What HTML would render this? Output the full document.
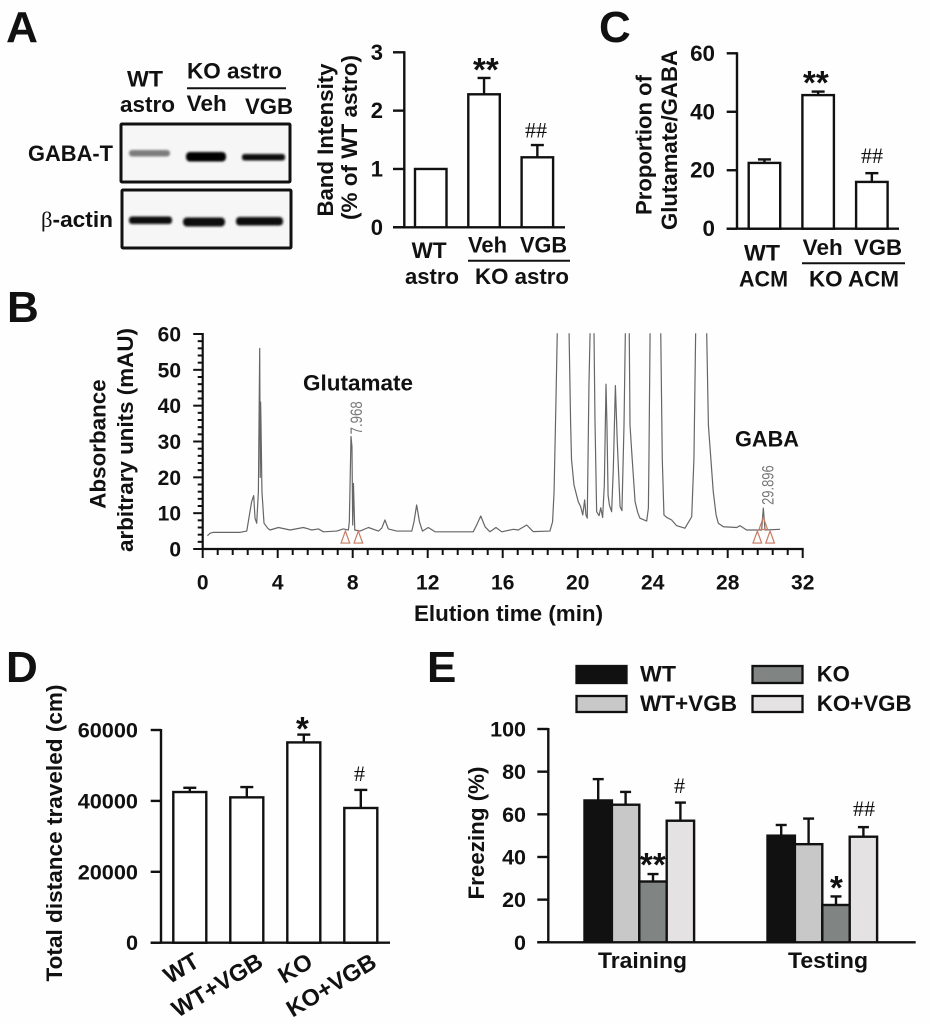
<!DOCTYPE html>
<html lang="en">
<head>
<meta charset="utf-8">
<title>Astrocyte GABA-T figure</title>
<style>
html,body{margin:0;padding:0;background:#fefefe;}
svg{display:block;filter:blur(.35px);}
text{font-family:"Liberation Sans",sans-serif;font-weight:bold;font-size:22.4px;fill:#111;}
.panel{font-size:44px;}
.hash{font-family:"Liberation Serif",serif;font-weight:normal;font-size:22px;}
.star{font-size:33px;}
.ser{font-family:"Liberation Serif",serif;}
.peak{font-weight:normal;font-size:17px;fill:#777;}
</style>
</head>
<body>
<svg id="fig" width="930" height="1024" viewBox="0 0 930 1024" xmlns="http://www.w3.org/2000/svg">
<defs>
<filter id="blur2" x="-20%" y="-80%" width="140%" height="260%"><feGaussianBlur stdDeviation="1.1"/></filter>
</defs>
<rect width="930" height="1024" fill="#fefefe"/>

<text class="panel" x="6" y="42" textLength="32" lengthAdjust="spacingAndGlyphs">A</text>
<text class="panel" x="7" y="322">B</text>
<text class="panel" x="599" y="42">C</text>
<text class="panel" x="6" y="682">D</text>
<text class="panel" x="427" y="682">E</text>

<!-- Western blot -->
<g>
  <text x="127" y="86.7" textLength="36" lengthAdjust="spacingAndGlyphs">WT</text>
  <text x="120" y="112" textLength="55" lengthAdjust="spacingAndGlyphs">astro</text>
  <text x="187" y="78.7" textLength="95" lengthAdjust="spacingAndGlyphs">KO astro</text>
  <line x1="187" y1="88.3" x2="286" y2="88.3" stroke="#111" stroke-width="2"/>
  <text x="186.7" y="111" textLength="40" lengthAdjust="spacingAndGlyphs">Veh</text>
  <text x="245" y="114" textLength="48" lengthAdjust="spacingAndGlyphs">VGB</text>
  <text x="28" y="161" textLength="85" lengthAdjust="spacingAndGlyphs">GABA-T</text>
  <text x="41" y="227" textLength="72" lengthAdjust="spacingAndGlyphs"><tspan class="ser" font-weight="normal">β</tspan>-actin</text>
  <rect x="121" y="124" width="169" height="58" fill="#f6f6f6" stroke="#111" stroke-width="3" rx="1"/>
  <rect x="122" y="190" width="169" height="58" fill="#f6f6f6" stroke="#111" stroke-width="3" rx="1"/>
  <g filter="url(#blur2)">
    <rect x="129" y="150" width="41" height="6.5" rx="3" fill="#7d7d7d"/>
    <rect x="186" y="152" width="40" height="9.5" rx="4" fill="#000"/>
    <rect x="242" y="154" width="43" height="6.5" rx="2.5" fill="#111"/>
    <rect x="129" y="216.5" width="43" height="7.5" rx="3" fill="#0a0a0a"/>
    <rect x="183" y="217.5" width="42" height="9" rx="4" fill="#111"/>
    <rect x="236" y="217" width="47" height="8.5" rx="3.5" fill="#111"/>
  </g>
</g>

<!-- Panel A chart -->
<g id="chartA">
  <text transform="translate(333,140) rotate(-90)" text-anchor="middle" textLength="153" lengthAdjust="spacingAndGlyphs">Band Intensity</text>
  <text transform="translate(357,137.5) rotate(-90)" text-anchor="middle" textLength="165" lengthAdjust="spacingAndGlyphs">(% of WT astro)</text>
  <text x="411.7" y="258" textLength="35" lengthAdjust="spacingAndGlyphs">WT</text>
  <text x="405" y="284" textLength="54" lengthAdjust="spacingAndGlyphs">astro</text>
  <text x="468" y="252.7" textLength="39" lengthAdjust="spacingAndGlyphs">Veh</text>
  <text x="520" y="252.7" textLength="47" lengthAdjust="spacingAndGlyphs">VGB</text>
  <line x1="468" y1="260.7" x2="570" y2="260.7" stroke="#111" stroke-width="2"/>
  <text x="475" y="284" textLength="94" lengthAdjust="spacingAndGlyphs">KO astro</text>
  <text class="star" x="473" y="81">**</text>
  <text class="hash" x="525" y="137.5">##</text>
</g>

<!-- Panel C chart -->
<g id="chartC">
  <text transform="translate(651.7,145) rotate(-90)" text-anchor="middle" textLength="140" lengthAdjust="spacingAndGlyphs">Proportion of</text>
  <text transform="translate(677,140) rotate(-90)" text-anchor="middle" textLength="180" lengthAdjust="spacingAndGlyphs">Glutamate/GABA</text>
  <text x="744" y="260.7" textLength="36" lengthAdjust="spacingAndGlyphs">WT</text>
  <text x="739" y="286.7" textLength="49" lengthAdjust="spacingAndGlyphs">ACM</text>
  <text x="802.7" y="255" textLength="40" lengthAdjust="spacingAndGlyphs">Veh</text>
  <text x="854" y="255" textLength="48" lengthAdjust="spacingAndGlyphs">VGB</text>
  <line x1="802" y1="263.3" x2="905" y2="263.3" stroke="#111" stroke-width="2"/>
  <text x="809" y="286.7" textLength="90" lengthAdjust="spacingAndGlyphs">KO ACM</text>
  <text class="star" x="803" y="94">**</text>
  <text class="hash" x="861" y="163">##</text>
</g>

<!-- Panel B chromatogram -->
<g id="chartB">
  <text transform="translate(105.7,444) rotate(-90)" text-anchor="middle">Absorbance</text>
  <text transform="translate(133,440) rotate(-90)" text-anchor="middle">arbitrary units (mAU)</text>
  <text x="414" y="621">Elution time (min)</text>
  <text x="303" y="390.7" textLength="110" lengthAdjust="spacingAndGlyphs">Glutamate</text>
  <text x="735" y="446.7" textLength="64" lengthAdjust="spacingAndGlyphs">GABA</text>
</g>

<!-- Panel D chart -->
<g id="chartD">
  <text transform="translate(62,833) rotate(-90)" text-anchor="middle" textLength="297" lengthAdjust="spacingAndGlyphs">Total distance traveled (cm)</text>
  <text class="star" x="296" y="740">*</text>
  <text class="hash" x="354" y="781">#</text>
</g>

<!-- Panel E chart -->
<g id="chartE">
  <text transform="translate(484,833) rotate(-90)" text-anchor="middle" textLength="133" lengthAdjust="spacingAndGlyphs">Freezing (%)</text>
  <g>
    <rect x="576.5" y="666" width="50" height="17" fill="#111" stroke="#111" stroke-width="2.3"/>
    <text x="640" y="681.7" textLength="36" lengthAdjust="spacingAndGlyphs">WT</text>
    <rect x="752.5" y="666" width="50" height="17" fill="#808482" stroke="#111" stroke-width="2.3"/>
    <text x="816.7" y="681.7" textLength="33" lengthAdjust="spacingAndGlyphs">KO</text>
    <rect x="576.5" y="696" width="50" height="16" fill="#c8c8c8" stroke="#111" stroke-width="2.3"/>
    <text x="640" y="711" textLength="97" lengthAdjust="spacingAndGlyphs">WT+VGB</text>
    <rect x="752.5" y="696" width="50" height="16" fill="#e4e2e2" stroke="#111" stroke-width="2.3"/>
    <text x="816.7" y="711" textLength="95" lengthAdjust="spacingAndGlyphs">KO+VGB</text>
  </g>
  <text class="hash" x="674" y="793">#</text>
  <text class="star" x="640" y="876">**</text>
  <text class="hash" x="853" y="816">##</text>
  <text class="star" x="830" y="899">*</text>
</g>
</svg>

<script>
// Panel A data
const aCategories = ['WT astro', 'KO astro Veh', 'KO astro VGB'];
const aValues = [1, 2.28, 1.2];
const aErrorTops = [null, 2.56, 1.41];
const aTicks = [0, 1, 2, 3];

// Panel C data
const cCategories = ['WT ACM', 'KO ACM Veh', 'KO ACM VGB'];
const cValues = [22.5, 45.7, 16];
const cErrorTops = [23.7, 46.9, 19];
const cTicks = [0, 20, 40, 60];

// Panel D data
const dCategories = ['WT', 'WT+VGB', 'KO', 'KO+VGB'];
const dValues = [42500, 41000, 56500, 38000];
const dErrorTops = [43700, 43900, 58700, 43100];
const dTicks = [0, 20000, 40000, 60000];

// Panel E data
const eGroups = ['Training', 'Testing'];
const eSeries = ['WT', 'WT+VGB', 'KO', 'KO+VGB'];
const eTrainingValues = [66.5, 64.5, 28.5, 57];
const eTrainingErrorTops = [76.5, 70.5, 32, 65.5];
const eTestingValues = [50, 46, 17.5, 49.5];
const eTestingErrorTops = [55, 58, 21.5, 54];
const eTicks = [0, 20, 40, 60, 80, 100];

// Panel B data
const bXTicks = [0, 4, 8, 12, 16, 20, 24, 28, 32];
const bYTicks = [0, 10, 20, 30, 40, 50, 60];
const traceTimes = [0.25,0.4,0.57,2,2.35,2.52,2.61,2.72,2.79,2.88,2.97,3.04,3.07,3.09,3.11,3.16,3.27,3.5,3.59,4.04,4.66,5.37,5.64,5.81,6.17,6.44,7.15,7.5,7.77,7.82,7.91,7.96,8,8.04,8.11,8.39,8.84,9.37,9.55,9.72,9.9,10.35,11.15,11.27,11.41,11.56,11.72,12.03,12.39,14.43,14.61,14.83,15.06,15.32,15.64,15.95,16.57,16.83,17.28,17.63,18.52,18.66,18.74,18.84,18.91,19.54,19.62,19.67,19.8,20.03,20.16,20.27,20.37,20.44,20.51,20.6,20.66,20.87,20.92,21.01,21.14,21.23,21.33,21.42,21.51,21.56,21.62,21.69,21.81,21.9,22.01,22.11,22.26,22.36,22.47,22.54,22.75,22.79,22.88,23.06,23.2,23.32,23.68,23.77,23.8,23.86,24.43,24.51,24.6,24.75,25.01,25.28,25.72,26.08,26.2,26.29,26.88,26.97,27.23,27.38,27.5,27.77,28.48,28.66,29.01,29.81,29.9,29.99,30.79];
const traceMau = [3.7,4.4,4.65,4.65,5,10.4,13.2,14.9,8.6,7.2,16,56,20,41,34.6,16,7.2,5.6,5.3,6,5.3,6,5.6,5.3,5.6,4.8,5,5.6,5.3,7.6,31.4,28.6,6.7,18.3,5.3,5,6,5,5.8,8.1,5.6,5,5,7.6,12.3,7.6,5,6,4.8,4.8,6.7,9.2,6.2,4.8,6,4.8,5.5,5.3,6.7,4.84,5,7.6,16,41.2,60.2,60.2,35.6,25,17.9,13.2,11.8,9.5,13.7,9.5,8.6,45.8,60.2,60.2,36.5,10.4,9.3,11.5,8.8,17.9,46,34.6,15,12.3,10.4,22.5,45.6,30,11.8,10.7,34.6,60.2,60.2,34.6,27.2,13.2,10.2,8.6,7.8,11.4,25.3,60.2,60.2,25.3,9.5,8.8,8.1,6.5,5.8,9,25.3,60.2,60.2,34.6,16,9.5,7.2,6.2,6,6.5,5.3,5.3,11.4,5.3,5.5];
const markerTimes = [7.61, 8.3, 29.58, 30.26, 29.9];
const markerApexes = [5, 5, 5, 5, 8.8];
const peakTimes = ['7.968', '29.896'];
const peakLabelBases = [32, 12.3];

const NS = 'http://www.w3.org/2000/svg';
function make(parent, tag, attrs) {
  const el = document.createElementNS(NS, tag);
  for (const k in attrs) el.setAttribute(k, attrs[k]);
  parent.appendChild(el);
  return el;
}
function linear(d0, d1, r0, r1) {
  return v => r0 + (v - d0) * (r1 - r0) / (d1 - d0);
}
function axisLine(parent, x1, y1, x2, y2, sw) {
  return make(parent, 'line', {x1, y1, x2, y2, stroke: '#111', 'stroke-width': sw});
}

function drawAxes(parent, o) {
  const yAxis = axisLine(parent, o.axisX, o.y(o.ticks[o.ticks.length - 1]) - 1, o.axisX, o.y(0), 2.4);
  
  
  const xAxis = axisLine(parent, o.tickX, o.y(0), o.xEnd, o.y(0), 2.4);
  
  
  o.ticks.forEach(t => {
    const tick = axisLine(parent, o.tickX, o.y(t), o.axisX, o.y(t), 2.4);
    
    
    const lab = make(parent, 'text', {x: o.labelX, y: o.y(t) + 7.5, 'text-anchor': 'end'});
    lab.style.fontSize = o.font + 'px';
    lab.textContent = t;
    
    
  });
}

function drawBar(parent, x, w, y, value, errTop, fill, cap) {
  const cx = x + w / 2;
  if (errTop !== null) {
    const stem = axisLine(parent, cx, y(value), cx, y(errTop), 2.4);
    
    
    const hat = axisLine(parent, cx - cap / 2, y(errTop), cx + cap / 2, y(errTop), 2.4);
    
    
  }
  const bar = make(parent, 'rect', {x, y: y(value), width: w, height: y(0) - y(value), fill, stroke: '#111', 'stroke-width': 2.4});
  
  
  return bar;
}

// Panel A
(function () {
  const g = document.getElementById('chartA');
  const y = linear(0, 3, 227.3, 52.3);
  drawAxes(g, {y, ticks: aTicks, axisX: 404.3, tickX: 393, xEnd: 565, labelX: 383, font: 22});
  aCategories.forEach((c, i) => {
    drawBar(g, 415 + i * 53.3, 31.5, y, aValues[i], aErrorTops[i], '#fff', 13);
  });
})();

// Panel C
(function () {
  const g = document.getElementById('chartC');
  const y = linear(0, 60, 228.7, 53.3);
  drawAxes(g, {y, ticks: cTicks, axisX: 737, tickX: 726.7, xEnd: 899, labelX: 715, font: 22.4});
  cCategories.forEach((c, i) => {
    drawBar(g, 748.7 + i * 53.7, 31.5, y, cValues[i], cErrorTops[i], '#fff', 13);
  });
})();

// Panel D
(function () {
  const g = document.getElementById('chartD');
  const y = linear(0, 60000, 942.7, 730);
  drawAxes(g, {y, ticks: dTicks, axisX: 161, tickX: 150.7, xEnd: 390, labelX: 138, font: 21.7});
  const band = i => 173.3 + i * 57;
  dCategories.forEach((c, i) => {
    drawBar(g, band(i), 33, y, dValues[i], dErrorTops[i], '#fff', 13);
    const long = c.length > 2;
    const lab = make(g, 'text', {
      transform: 'translate(' + (band(i) + (long ? -9 : 12)) + ',' + (long ? 992 : 975) + ') rotate(-31)',
      'text-anchor': 'middle'
    });
    lab.style.fontSize = '23.5px';
    lab.textContent = c;
    
    
  });
})();

// Panel E
(function () {
  const g = document.getElementById('chartE');
  const y = linear(0, 100, 942.3, 729);
  drawAxes(g, {y, ticks: eTicks, axisX: 548.3, tickX: 537.3, xEnd: 915.7, labelX: 526, font: 21.5});
  const fills = ['#111', '#c8c8c8', '#808482', '#e4e2e2'];
  const starts = [584.5, 767.5];
  const lefts = [598, 788];
  const widths = [89, 80];
  const values = [eTrainingValues, eTestingValues];
  const tops = [eTrainingErrorTops, eTestingErrorTops];
  eGroups.forEach((name, gi) => {
    eSeries.forEach((s, i) => {
      drawBar(g, starts[gi] + i * 27.4, 27.4, y, values[gi][i], tops[gi][i], fills[i], 11);
    });
    const lab = make(g, 'text', {x: lefts[gi], y: 968, textLength: widths[gi], lengthAdjust: 'spacingAndGlyphs'});
    lab.textContent = name;
    
    
  });
})();

// Panel B
(function () {
  const g = document.getElementById('chartB');
  const x = linear(0, 32, 202.7, 802.7);
  const y = linear(0, 60, 549, 334);
  const yAxis = axisLine(g, x(0), y(60) - 1, x(0), y(0) + 1, 2.2);
  
  
  const xAxis = axisLine(g, x(0) - 1, y(0), x(32) + 1, y(0), 2.2);
  
  
  for (let k = 0; k <= 30; k++) {
    const v = k * 2;
    const isMajor = k % 5 === 0;
    const minorY = axisLine(g, x(0) - (isMajor ? 9.5 : 5), y(v), x(0), y(v), 2);
    
    
  }
  for (let k = 0; k <= 40; k++) {
    const v = k * 0.8;
    const isMajor = k % 5 === 0;
    const minorX = axisLine(g, x(v), y(0), x(v), y(0) + (isMajor ? 9 : 6), 2);
    
    
  }
  bYTicks.forEach(t => {
    const lab = make(g, 'text', {x: 181, y: y(t) + 7.5, 'text-anchor': 'end'});
    lab.style.fontSize = '21px';
    lab.textContent = t;
    
    
  });
  bXTicks.forEach(t => {
    const lab = make(g, 'text', {x: x(t), y: 589.3, 'text-anchor': 'middle'});
    lab.style.fontSize = '21px';
    lab.textContent = t;
    
    
  });
  // Off-scale peaks leave the plot at the top, so the trace is broken wherever it stays above the axis maximum.
  const runs = [[]];
  traceTimes.forEach((t, i) => {
    const run = runs[runs.length - 1];
    run.push(x(t).toFixed(2) + ',' + y(traceMau[i]).toFixed(2));
    if (traceMau[i] >= 60 && i + 1 < traceMau.length && traceMau[i + 1] >= 60) runs.push([]);
  });
  runs.forEach(run => {
    const trace = make(g, 'polyline', {points: run.join(' '), fill: 'none', stroke: '#666', 'stroke-width': 1.2, 'stroke-linejoin': 'round'});
    
    
  });
  markerTimes.forEach((t, i) => {
    const cx = x(t), top = y(markerApexes[i]);
    const tri = make(g, 'polygon', {
      points: (cx - 4.3) + ',' + (top + 12) + ' ' + cx + ',' + top + ' ' + (cx + 4.3) + ',' + (top + 12),
      fill: 'none', stroke: '#c87a62', 'stroke-width': 1.2
    });
    
    
  });
  peakTimes.forEach((p, i) => {
    const px = x(parseFloat(p)) + 10, py = y(peakLabelBases[i]);
    const lab = make(g, 'text', {
      transform: 'translate(' + px + ',' + py + ') rotate(-90)',
      textLength: p.length * 6.6, lengthAdjust: 'spacingAndGlyphs', class: 'peak'
    });
    lab.textContent = p;
    
    
  });
})();
</script>
</body>
</html>
